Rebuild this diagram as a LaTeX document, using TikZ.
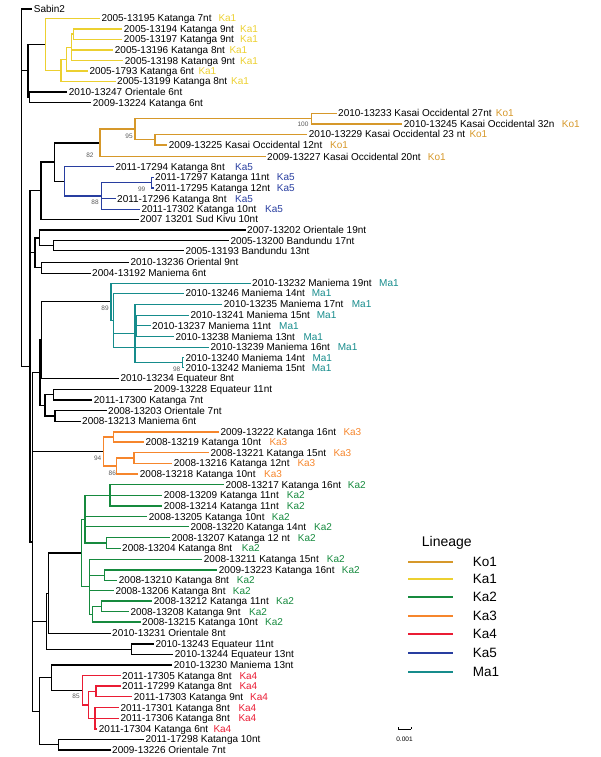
\documentclass[tikz,border=0pt]{standalone}
\usepackage{fontspec}
\setmainfont{Liberation Sans}
\usetikzlibrary{calc}
\definecolor{cKo}{RGB}{214,152,42}
\definecolor{cKa1}{RGB}{236,208,48}
\definecolor{cKa2}{RGB}{22,138,62}
\definecolor{cKa3}{RGB}{246,134,44}
\definecolor{cKa4}{RGB}{234,28,52}
\definecolor{cKa5}{RGB}{40,62,160}
\definecolor{cMa}{RGB}{22,140,140}
\definecolor{bsgray}{RGB}{90,90,90}
\newcommand{\lf}[6]{%
  \node[lt,anchor=west] (#1) at (#3,#4) {#5};
  \draw[br,#6] (#2,#4) -- (#1.west);}
\newcommand{\lfl}[8]{%
  \lf{#1}{#2}{#3}{#4}{#5}{#6}%
  \node[lt,inner xsep=0pt,text=#6,anchor=west] (#1l) at (#8,#4) {#7};}
\newcommand{\vn}[4]{\draw[br,#4] (#1,#2) -- (#1,#3);}
\newcommand{\hn}[4]{\draw[br,#4] (#1,#3) -- (#2,#3);}
\newcommand{\bs}[3]{\node[bst] at (#1,#2) {#3};}
\begin{document}
\begin{tikzpicture}[x=1pt,y=-1pt,
  br/.style={line width=1.3pt,line cap=rect},
  lt/.style={font=\fontsize{10}{12}\selectfont,inner xsep=2pt,inner ysep=0pt,text height=7.2pt,text depth=0pt},
  bst/.style={font=\fontsize{6.5}{7}\selectfont,text=bsgray,inner sep=0pt},
  legline/.style={line width=1.9pt},
  legtext/.style={font=\fontsize{13.5}{15}\selectfont,anchor=west,inner sep=0pt}]
\useasboundingbox (0,0) rectangle (600,757);
% root
\vn{21.3}{9}{366.3}{black}
\lf{sabin}{21.3}{31.7}{9}{Sabin2}{black}
\hn{21.3}{28}{70.8}{black}
\vn{28}{44.3}{97.35}{black}
\hn{28}{45.7}{44.3}{black}
\hn{28}{29.3}{97.35}{black}
\vn{29.3}{92}{102.7}{black}
\lf{l13247}{29.3}{66.7}{92}{2010-13247 Orientale 6nt}{black}
\lf{l13224}{29.3}{90.7}{102.7}{2009-13224 Katanga 6nt}{black}
% Ka1
\vn{45.7}{18.3}{70.25}{cKa1}
\lfl{l13195}{45.7}{99.3}{18.3}{2005-13195 Katanga 7nt}{cKa1}{Ka1}{218.3}
\hn{45.7}{61}{70.25}{cKa1}
\vn{61}{59.2}{81.3}{cKa1}
\hn{61}{66.7}{59.2}{cKa1}
\lfl{l13199}{61}{115}{81.3}{2005-13199 Katanga 8nt}{cKa1}{Ka1}{231}
\vn{66.7}{47.4}{71}{cKa1}
\hn{66.7}{71.7}{47.4}{cKa1}
\lfl{l1793}{66.7}{87.3}{71}{2005-1793 Katanga 6nt}{cKa1}{Ka1}{198.3}
\vn{71.7}{34.15}{60.7}{cKa1}
\hn{71.7}{73.3}{34.15}{cKa1}
\lfl{l13196}{71.7}{112.7}{50}{2005-13196 Katanga 8nt}{cKa1}{Ka1}{229.3}
\lfl{l13198}{71.7}{122.7}{60.7}{2005-13198 Katanga 9nt}{cKa1}{Ka1}{240}
\vn{73.3}{29}{39.3}{cKa1}
\lfl{l13194}{73.3}{121.7}{29}{2005-13194 Katanga 9nt}{cKa1}{Ka1}{240}
\lfl{l13197}{73.3}{121.7}{39.3}{2005-13197 Katanga 9nt}{cKa1}{Ka1}{240}
% B
\hn{21.3}{30}{366.3}{black}
\vn{30}{190.7}{541.9}{black}
\hn{30}{41}{190.7}{black}
\vn{41}{162.1}{219.3}{black}
\lf{l13201}{41}{138}{219.3}{2007 13201 Sud Kivu 10nt}{black}
\hn{41}{54.3}{162.1}{black}
\vn{54.3}{142.9}{181.3}{black}
% Ko1
\hn{54.3}{100}{142.9}{black}
\vn{100}{129.15}{156.7}{cKo}
\lfl{l13227}{100}{265}{156.7}{2009-13227 Kasai Occidental 20nt}{cKo}{Ko1}{427.7}
\hn{100}{135}{129.15}{cKo}
\vn{135}{118.65}{139.65}{cKo}
\hn{135}{311.7}{118.65}{cKo}
\vn{311.7}{113.3}{124}{cKo}
\lfl{l13233}{311.7}{336}{113.3}{2010-13233 Kasai Occidental 27nt}{cKo}{Ko1}{495.7}
\lfl{l13245}{311.7}{401.7}{124}{2010-13245 Kasai Occidental 32n}{cKo}{Ko1}{561.7}
\hn{135}{155}{139.65}{cKo}
\vn{155}{134.3}{145}{cKo}
\lfl{l13229}{155}{306.7}{134.3}{2010-13229 Kasai Occidental 23 nt}{cKo}{Ko1}{469.3}
\lfl{l13225}{155}{166.7}{145}{2009-13225 Kasai Occidental 12nt}{cKo}{Ko1}{330}
\bs{129}{136}{95}
\bs{303}{124.5}{100}
\bs{90}{155}{82}
% Ka5
\hn{54.3}{64.3}{181.3}{black}
\vn{64.3}{166.7}{195.98}{cKa5}
\lfl{l17294}{64.3}{113.3}{166.7}{2011-17294 Katanga 8nt}{cKa5}{Ka5}{235}
\hn{64.3}{101.7}{195.98}{cKa5}
\vn{101.7}{182.65}{209.3}{cKa5}
\hn{101.7}{151.7}{182.65}{cKa5}
\vn{151.7}{177.3}{188}{cKa5}
\lfl{l17297}{151.7}{153}{177.3}{2011-17297 Katanga 11nt}{cKa5}{Ka5}{276.7}
\lfl{l17295}{151.7}{153}{188}{2011-17295 Katanga 12nt}{cKa5}{Ka5}{276.7}
\lfl{l17296}{101.7}{115}{198.7}{2011-17296 Katanga 8nt}{cKa5}{Ka5}{235}
\lfl{l17302}{101.7}{139.3}{209.3}{2011-17302 Katanga 10nt}{cKa5}{Ka5}{265}
\bs{141.7}{189.5}{99}
\bs{95}{202.7}{88}
% G1
\hn{30}{35}{252.8}{black}
\vn{35}{237.85}{267.8}{black}
\hn{35}{39.3}{237.85}{black}
\vn{39.3}{230}{245.7}{black}
\lf{l13202}{39.3}{245}{230}{2007-13202 Orientale 19nt}{black}
\hn{39.3}{53.3}{245.7}{black}
\vn{53.3}{240.7}{250.7}{black}
\lf{l13200}{53.3}{228.3}{240.7}{2005-13200 Bandundu 17nt}{black}
\lf{l13193}{53.3}{183.3}{250.7}{2005-13193 Bandundu 13nt}{black}
\hn{35}{41.7}{267.8}{black}
\vn{41.7}{262.3}{273.3}{black}
\lf{l13236}{41.7}{128.3}{262.3}{2010-13236 Oriental 9nt}{black}
\lf{l13192}{41.7}{90}{273.3}{2004-13192 Maniema 6nt}{black}
% D
\hn{30}{32.7}{541.9}{black}
\vn{32.7}{372.65}{711.15}{black}
\hn{32.7}{40}{372.65}{black}
\vn{40}{340}{405.3}{black}
\hn{40}{41.7}{340}{black}
\vn{41.7}{301.8}{378.3}{black}
\lf{l13234}{41.7}{118.3}{378.3}{2010-13234 Equateur 8nt}{black}
% Ma1
\hn{41.7}{111}{301.8}{black}
\vn{111}{283.3}{320.3}{cMa}
\lfl{l13232}{111}{250}{283.3}{2010-13232 Maniema 19nt}{cMa}{Ma1}{379}
\hn{111}{113.3}{320.3}{cMa}
\vn{113.3}{293.3}{347.3}{cMa}
\lfl{l13246}{113.3}{183.3}{293.3}{2010-13246 Maniema 14nt}{cMa}{Ma1}{311.7}
\lfl{l13239}{113.3}{208.3}{347.3}{2010-13239 Maniema 16nt}{cMa}{Ma1}{337.7}
\hn{113.3}{135}{333.5}{cMa}
\vn{135}{304.3}{362.7}{cMa}
\lfl{l13235}{135}{221.7}{304.3}{2010-13235 Maniema 17nt}{cMa}{Ma1}{351.7}
\hn{135}{136.7}{326}{cMa}
\vn{136.7}{315.3}{336.7}{cMa}
\lfl{l13241}{136.7}{188.3}{315.3}{2010-13241 Maniema 15nt}{cMa}{Ma1}{316.7}
\lfl{l13237}{136.7}{150}{325.7}{2010-13237 Maniema 11nt}{cMa}{Ma1}{279}
\lfl{l13238}{136.7}{173.3}{336.7}{2010-13238 Maniema 13nt}{cMa}{Ma1}{303.3}
\hn{135}{182.7}{362.7}{cMa}
\vn{182.7}{357.7}{367.7}{cMa}
\lfl{l13240}{182.7}{183.3}{357.7}{2010-13240 Maniema 14nt}{cMa}{Ma1}{312.3}
\lfl{l13242}{182.7}{183.3}{367.7}{2010-13242 Maniema 15nt}{cMa}{Ma1}{311.7}
\bs{105}{308.3}{89}
\bs{176.7}{368.8}{98}
% n45
\hn{40}{45}{405.3}{black}
\vn{45}{394.65}{416}{black}
\hn{45}{53.3}{394.65}{black}
\vn{53.3}{389.3}{400}{black}
\lf{l13228}{53.3}{151.7}{389.3}{2009-13228 Equateur 11nt}{black}
\lf{l17300}{53.3}{91.7}{400}{2011-17300 Katanga 7nt}{black}
\hn{45}{55}{416}{black}
\vn{55}{410.7}{421.3}{black}
\lf{l13203}{55}{106}{410.7}{2008-13203 Orientale 7nt}{black}
\lf{l13213}{55}{80}{421.3}{2008-13213 Maniema 6nt}{black}
% Ka3
\hn{32.7}{103.3}{451.5}{black}
\vn{103.3}{437}{466}{cKa3}
\hn{103.3}{113.3}{437}{cKa3}
\vn{113.3}{432}{442}{cKa3}
\lfl{l13222}{113.3}{218.3}{432}{2009-13222 Katanga 16nt}{cKa3}{Ka3}{343.3}
\lfl{l13219}{113.3}{143.3}{442}{2008-13219 Katanga 10nt}{cKa3}{Ka3}{269.3}
\hn{103.3}{116.7}{466}{cKa3}
\vn{116.7}{458}{474}{cKa3}
\lfl{l13218}{116.7}{137.7}{474}{2008-13218 Katanga 10nt}{cKa3}{Ka3}{264}
\hn{116.7}{134}{458}{cKa3}
\vn{134}{452.7}{463.3}{cKa3}
\lfl{l13221}{134}{208.3}{452.7}{2008-13221 Katanga 15nt}{cKa3}{Ka3}{333.3}
\lfl{l13216}{134}{171.7}{463.3}{2008-13216 Katanga 12nt}{cKa3}{Ka3}{297.3}
\bs{97.7}{458}{94}
\bs{112.3}{473}{86}
% H
\hn{32.7}{46.7}{621.15}{black}
\vn{46.7}{593.15}{649.15}{black}
\hn{46.7}{48.3}{593.15}{black}
\vn{48.3}{553}{633.3}{black}
\lf{l13231}{48.3}{110}{633.3}{2010-13231 Orientale 8nt}{black}
\hn{46.7}{131.7}{649.15}{black}
\vn{131.7}{644}{654.3}{black}
\lf{l13243}{131.7}{153.3}{644}{2010-13243 Equateur 11nt}{black}
\lf{l13244}{131.7}{172.7}{654.3}{2010-13244 Equateur 13nt}{black}
% Ka2
\hn{48.3}{81.7}{553}{black}
\vn{81.7}{519.2}{586.75}{cKa2}
\hn{81.7}{85}{519.2}{cKa2}
\vn{85}{495.35}{543}{cKa2}
\hn{85}{110}{495.35}{cKa2}
\vn{110}{484.7}{506}{cKa2}
\lfl{l13217}{110}{223.3}{484.7}{2008-13217 Katanga 16nt}{cKa2}{Ka2}{347.7}
\lfl{l13209}{110}{161.7}{495.3}{2008-13209 Katanga 11nt}{cKa2}{Ka2}{286.7}
\lfl{l13214}{110}{161.7}{506}{2008-13214 Katanga 11nt}{cKa2}{Ka2}{286.7}
\lfl{l13205}{85}{146.7}{516.7}{2008-13205 Katanga 10nt}{cKa2}{Ka2}{271.7}
\lfl{l13220}{85}{188.3}{526.7}{2008-13220 Katanga 14nt}{cKa2}{Ka2}{314}
\hn{85}{106.7}{543}{cKa2}
\vn{106.7}{537.7}{548.3}{cKa2}
\lfl{l13207}{106.7}{169.3}{537.7}{2008-13207 Katanga 12 nt}{cKa2}{Ka2}{297.7}
\lfl{l13204}{106.7}{120}{548.3}{2008-13204 Katanga 8nt}{cKa2}{Ka2}{241.7}
\hn{81.7}{89.3}{586.75}{cKa2}
\vn{89.3}{559.3}{614.2}{cKa2}
\lfl{l13211}{89.3}{201.7}{559.3}{2008-13211 Katanga 15nt}{cKa2}{Ka2}{326.7}
\lfl{l13206}{89.3}{113.3}{590.7}{2008-13206 Katanga 8nt}{cKa2}{Ka2}{232.7}
\hn{89.3}{104.3}{575.15}{cKa2}
\vn{104.3}{570}{580.3}{cKa2}
\lfl{l13223}{104.3}{216.7}{570}{2009-13223 Katanga 16nt}{cKa2}{Ka2}{341.7}
\lfl{l13210}{104.3}{116.7}{580.3}{2008-13210 Katanga 8nt}{cKa2}{Ka2}{236.7}
\hn{89.3}{92.7}{614.2}{cKa2}
\vn{92.7}{606.35}{622}{cKa2}
\lfl{l13215}{92.7}{140}{622}{2008-13215 Katanga 10nt}{cKa2}{Ka2}{265}
\hn{92.7}{101.7}{606.35}{cKa2}
\vn{101.7}{601}{611.7}{cKa2}
\lfl{l13212}{101.7}{151.7}{601}{2008-13212 Katanga 11nt}{cKa2}{Ka2}{276}
\lfl{l13208}{101.7}{128.3}{611.7}{2008-13208 Katanga 9nt}{cKa2}{Ka2}{249}
% F
\hn{32.7}{39.3}{711.15}{black}
\vn{39.3}{677.65}{744.65}{black}
\hn{39.3}{51.7}{677.65}{black}
\vn{51.7}{665}{690.3}{black}
\lf{l13230}{51.7}{171.7}{665}{2010-13230 Maniema 13nt}{black}
\hn{51.7}{82.7}{690.3}{black}
\vn{82.7}{675.7}{704.85}{cKa4}
\lfl{l17305}{82.7}{120}{675.7}{2011-17305 Katanga 8nt}{cKa4}{Ka4}{239.3}
\hn{82.7}{88.3}{704.85}{cKa4}
\vn{88.3}{691.35}{718.35}{cKa4}
\hn{88.3}{96}{691.35}{cKa4}
\vn{96}{686}{696.7}{cKa4}
\lfl{l17299}{96}{120}{686}{2011-17299 Katanga 8nt}{cKa4}{Ka4}{239.3}
\lfl{l17303}{96}{131.7}{696.7}{2011-17303 Katanga 9nt}{cKa4}{Ka4}{250}
\hn{88.3}{95}{718.35}{cKa4}
\vn{95}{707.7}{729}{cKa4}
\lfl{l17301}{95}{118.3}{707.7}{2011-17301 Katanga 8nt}{cKa4}{Ka4}{238.3}
\lfl{l17306}{95}{118.3}{718.3}{2011-17306 Katanga 8nt}{cKa4}{Ka4}{238.3}
\lfl{l17304}{95}{96.7}{729}{2011-17304 Katanga 6nt}{cKa4}{Ka4}{213.3}
\bs{76}{696.3}{85}
\hn{39.3}{58.3}{744.65}{black}
\vn{58.3}{739.3}{750}{black}
\lf{l17298}{58.3}{143.3}{739.3}{2011-17298 Katanga 10nt}{black}
\lf{l13226}{58.3}{110}{750}{2009-13226 Orientale 7nt}{black}
% legend
\node[legtext,font=\fontsize{14}{16}\selectfont] (legtitle) at (421.7,542.7) {Lineage};
\foreach \c/\t/\y [count=\i] in {cKo/Ko1/562.3,cKa1/Ka1/579.3,cKa2/Ka2/597,cKa3/Ka3/615.7,cKa4/Ka4/634.3,cKa5/Ka5/652.7,cMa/Ma1/672.3}{
  \coordinate (lg\i a) at (408.3,\y);
  \coordinate (lg\i b) at (453.3,\y);
  \draw[legline,\c] (lg\i a) -- (lg\i b);
  \node[legtext] (lgt\i) at (472.7,\y) {\t};
}
% scale bar
\coordinate (sba) at (398,729);
\coordinate (sbb) at (411,729);
\draw[line width=0.9pt] (sba) -- (sbb);
\draw[line width=0.7pt] ($(sba)+(0,-2)$) -- (sba) (sbb) -- ($(sbb)+(0,-2)$);
\node[font=\fontsize{6.5}{7}\selectfont,inner sep=0pt] (sbl) at (404.5,739) {0.001};
\end{tikzpicture}
\end{document}
